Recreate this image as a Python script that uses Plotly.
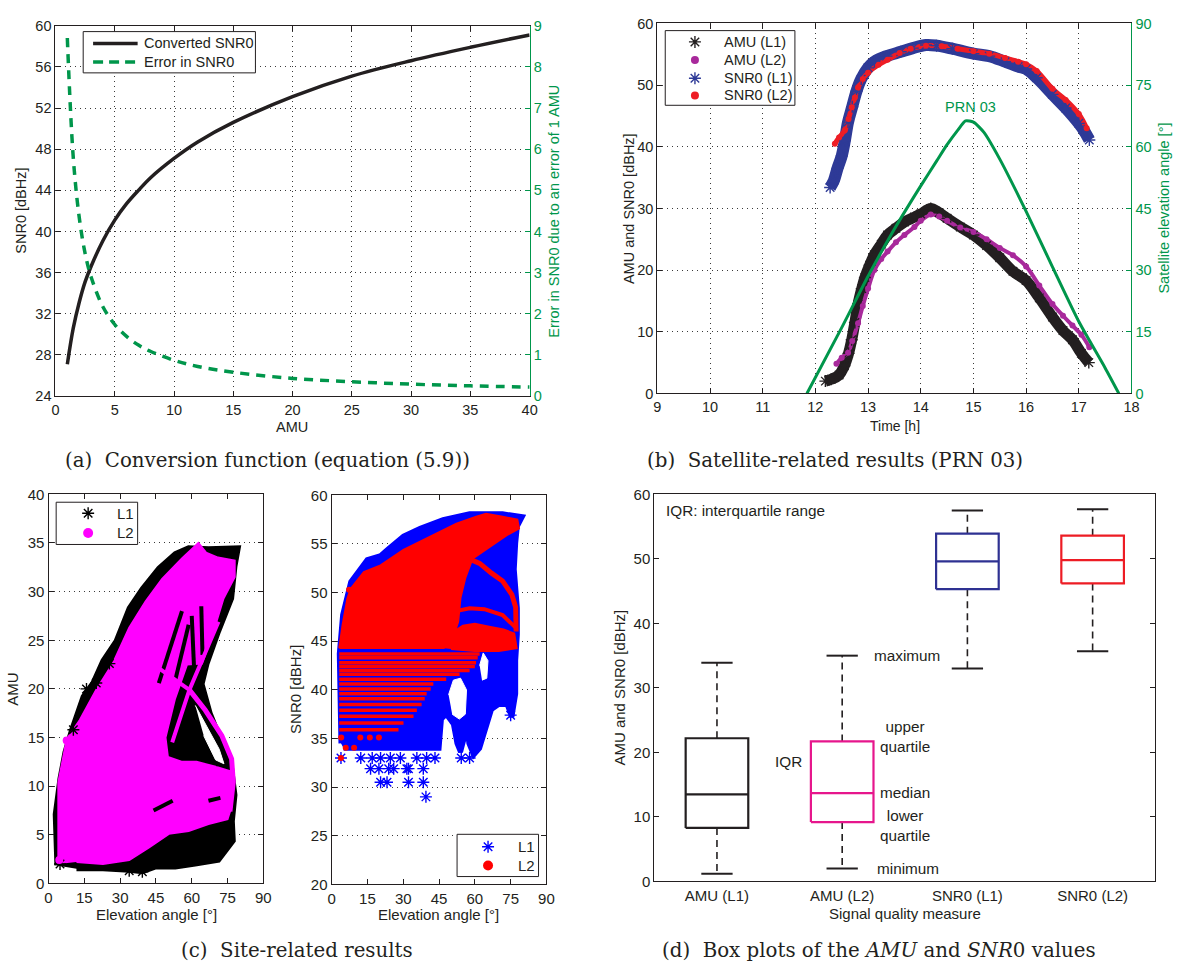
import plotly.graph_objects as go

W, H = 1186, 972
SANS = "Liberation Sans, Arial, sans-serif"
SERIF = "DejaVu Serif, Liberation Serif, serif"
INK = "#231F20"
GREEN = "#00964B"


def fx(p):
    return p / W


def fy(p):
    return 1 - p / H


# ---------------- (a) conversion function ----------------
amu_grid = [1, 1.5, 2, 2.5, 3, 4, 5, 6, 7, 8, 10, 12, 15, 20, 25, 30, 35, 40]
snr_converted = [27.1, 30.6, 33.1, 35.1, 36.6, 39.1, 41.1, 42.7, 44.0, 45.2,
                 47.1, 48.7, 50.6, 53.1, 55.1, 56.6, 57.9, 59.1]
snr_error = [8.7, 5.8, 4.35, 3.47, 2.9, 2.17, 1.74, 1.45, 1.24, 1.09,
             0.87, 0.72, 0.58, 0.43, 0.35, 0.29, 0.25, 0.22]

# ---------------- (b) PRN 03 time series ----------------
t_amu_l1 = [12.19, 12.3, 12.45, 12.55, 12.63, 12.69, 12.75, 12.81, 12.88, 12.94,
            13.03, 13.12, 13.25, 13.37, 13.53, 13.69, 13.88, 14.0, 14.19, 14.35,
            14.5, 14.75, 15.0, 15.25, 15.5, 15.75, 16.0, 16.25, 16.5, 16.7,
            16.88, 17.05, 17.19]
amu_l1 = [2.0, 2.3, 3.0, 4.5, 6.5, 8.7, 11.5, 14.5, 17.0, 18.8,
          20.8, 22.5, 24.2, 25.7, 26.8, 27.8, 28.6, 29.1, 30.0, 29.3,
          28.4, 27.0, 25.7, 24.0, 22.0, 19.8, 18.3, 15.5, 12.4, 10.2,
          8.7, 6.5, 5.0]
t_amu_l2 = [12.4, 12.5, 12.62, 12.7, 12.81, 12.9, 13.0, 13.12, 13.25, 13.37,
            13.53, 13.69, 13.88, 14.0, 14.19, 14.35, 14.5, 14.75, 15.0, 15.25,
            15.5, 15.75, 16.0, 16.25, 16.5, 16.7, 16.88, 17.05, 17.2]
amu_l2 = [4.8, 5.8, 6.6, 8.5, 11.4, 14.2, 17.0, 20.0, 21.8, 23.0,
          24.5, 25.7, 27.0, 28.0, 29.0, 28.7, 28.0, 26.9, 26.2, 25.0,
          23.6, 22.4, 20.6, 17.5, 14.5, 12.6, 11.0, 9.5, 7.5]
t_snr_l1 = [12.28, 12.35, 12.42, 12.5, 12.56, 12.62, 12.7, 12.78, 12.87, 13.0,
            13.12, 13.35, 13.62, 13.85, 14.1, 14.3, 14.6, 15.0, 15.3, 15.6,
            15.85, 16.0, 16.2, 16.5, 16.75, 17.0, 17.1, 17.2]
snr_l1 = [33.4, 34.5, 36.5, 38.5, 41.0, 44.0, 46.5, 49.0, 51.0, 52.8,
          53.8, 54.7, 55.4, 56.0, 56.5, 56.4, 55.9, 55.1, 54.7, 53.8,
          53.0, 52.6, 51.2, 48.5, 46.3, 43.8, 42.6, 41.1]
t_snr_l2 = [12.37, 12.45, 12.56, 12.63, 12.69, 12.75, 12.81, 12.9, 13.0, 13.2,
            13.37, 13.6, 13.81, 14.1, 14.4, 14.7, 15.0, 15.3, 15.6, 15.85,
            16.0, 16.2, 16.5, 16.75, 17.0, 17.15]
snr_l2 = [40.5, 41.5, 42.7, 44.5, 46.4, 48.0, 49.6, 51.0, 52.0, 53.3,
          54.1, 55.2, 55.9, 56.4, 56.3, 55.9, 55.5, 55.1, 54.4, 53.8,
          53.4, 52.3, 49.4, 47.6, 45.3, 43.0]
t_elev = [11.84, 12.5, 13.0, 13.5, 14.0, 14.3, 14.5, 14.7, 14.85, 15.0,
          15.2, 15.5, 16.0, 16.5, 17.0, 17.5, 17.76]
elev_prn03 = [0, 16, 28.5, 40, 50.5, 56.5, 60.5, 64, 66.3, 66,
              63.5, 57, 44.3, 30.8, 17.5, 6.2, 0]

# ---------------- (c) site-related clouds ----------------
# AMU: outline of the L1 and L2 point clouds (elevation, AMU)
amu_l1_cloud_el = [3.5, 2.8, 4.8, 6.9, 9.7, 14.5, 18.6, 22.8, 28.3, 33.8, 39.3, 46.2,
                   53.1, 58.7, 67.0, 79.5, 78.1, 76.7, 71.2, 66.4, 64.3, 67.7, 73.3,
                   76.7, 78.1, 77.0, 77.4, 71.2, 61.4, 53.1, 44.9, 39.3, 33.8, 22.8, 11.7]
amu_l1_cloud_v = [1.85, 7.1, 10.8, 13.5, 15.8, 19.2, 20.6, 22.9, 24.9, 28.3, 30.3, 32.4,
                  33.9, 34.5, 34.4, 34.5, 32.6, 29.3, 25.9, 22.6, 20.5, 17.5, 14.1,
                  11.8, 9.1, 6.4, 4.4, 2.4, 2.0, 1.7, 1.7, 1.2, 1.35, 1.5, 1.5]
amu_l2_cloud_el = [4.1, 4.1, 7.6, 13.1, 20.0, 26.9, 33.8, 40.7, 47.6, 55.9, 62.8, 66.0,
                   71.0, 78.0, 78.0, 73.3, 69.1, 64.3, 58.0, 53.0, 49.0, 50.0, 56.0,
                   62.0, 70.0, 76.5, 76.8, 75.0, 67.0, 58.7, 50.4, 42.1, 33.8, 22.8, 11.7]
amu_l2_cloud_v = [2.0, 10.4, 14.8, 16.8, 19.9, 22.6, 26.3, 29.0, 31.3, 33.4, 35.0, 34.0,
                  33.5, 33.2, 31.5, 29.3, 25.9, 22.6, 22.5, 19.0, 15.0, 13.0, 12.5,
                  12.5, 12.0, 11.5, 8.0, 6.6, 6.1, 5.4, 5.1, 3.7, 2.4, 2.0, 2.2]
amu_l2_gap_el = [61.5, 66.0, 71.5, 73.5, 70.0, 65.0]
amu_l2_gap_v = [18.3, 16.3, 13.8, 12.3, 12.7, 15.2]
amu_l2_arc_el = [59.0, 65.7, 72.6, 76.7, 77.4, 76.0]
amu_l2_arc_v = [19.9, 17.8, 15.2, 12.8, 10.4, 7.4]
amu_l2_stripe_el = [43.5, 59.0, None, 51.8, 59.0, 71.2]
amu_l2_stripe_v = [22.6, 19.9, None, 14.5, 19.9, 26.9]
amu_l1_streak_el = [57.4, 64.0, 71.2, None, 60.0, 61.0, None, 64.0, 64.5, None,
                    46.2, 55.9, None, 53.1, 58.7, None, 44.0, 52.0, None, 67.0, 72.0]
amu_l1_streak_v = [19.2, 15.8, 12.1, None, 27.5, 22.0, None, 28.5, 23.5, None,
                   20.6, 28.0, None, 20.9, 26.6, None, 7.5, 8.5, None, 8.5, 8.8]
amu_l1_pts_el = [25.5, 15.9, 20.0, 10.4, 39.3, 4.8, 33.8]
amu_l1_pts_v = [22.6, 20.0, 20.6, 15.8, 1.2, 2.0, 1.3]
amu_l2_pts_el = [7.6, 4.5]
amu_l2_pts_v = [14.7, 2.4]

# SNR0: outline of the L1 and L2 point clouds (elevation, SNR0)
snr_l1_cloud_el = [3.9, 3.2, 4.6, 8.0, 14.9, 20.5, 23.2, 30.1, 37.1, 46.7, 57.8, 71.6,
                   79.9, 77.8, 77.1, 76.5, 77.8, 77.8, 77.1, 77.1, 75.5, 73.5, 70.0,
                   67.0, 64.5, 62.0, 59.5, 57.5, 56.5, 55.5, 54.0, 52.5, 51.0, 48.0,
                   46.0, 45.0, 43.0, 30.0, 20.0, 12.0, 5.0]
snr_l1_cloud_v = [34.5, 43.7, 47.7, 51.1, 53.4, 53.8, 54.4, 55.8, 56.6, 57.5, 58.1, 58.1,
                  57.8, 56.8, 55.1, 52.4, 48.4, 45.7, 43.0, 39.6, 37.2, 38.5, 38.5,
                  38.0, 36.0, 34.0, 33.3, 34.5, 36.5, 35.0, 33.6, 34.5, 36.5, 37.5,
                  37.0, 34.0, 34.0, 34.0, 34.0, 34.0, 34.0]
snr_gap1_el = [49.0, 51.0, 54.0, 56.5, 56.0, 53.5, 50.5]
snr_gap1_v = [39.5, 41.0, 41.2, 40.0, 37.5, 37.0, 37.5]
snr_gap2_el = [62.0, 63.5, 65.5, 65.0, 63.0]
snr_gap2_v = [42.5, 43.8, 43.0, 41.2, 41.0]
snr_l1_pts_el = [3.9, 12.2, 17.0, 20.5, 24.6, 28.8, 35.7, 39.8, 43.3, 54.3, 57.8,
                 16.3, 19.8, 23.9, 26.0, 31.5, 32.2, 38.4,
                 20.5, 23.2, 32.2, 38.4, 39.5, 75.0]
snr_l1_pts_v = [33.0, 33.0, 33.0, 33.0, 33.0, 33.0, 33.0, 33.0, 33.0, 33.0, 33.0,
                31.9, 31.9, 31.9, 31.9, 31.9, 31.9, 31.9,
                30.5, 30.5, 30.5, 30.5, 29.0, 37.4]
snr_l2_cloud_el = [3.2, 4.6, 6.6, 8.0, 13.5, 20.5, 30.1, 44.0, 52.3, 60.6, 64.7, 71.6,
                   77.8, 78.5, 74.0, 68.0, 63.0, 59.0, 56.0, 54.0, 53.0, 51.0, 47.0, 3.2]
snr_l2_cloud_v = [44.3, 46.7, 49.4, 50.4, 52.1, 52.8, 54.4, 56.1, 57.1, 57.8, 58.1, 57.8,
                  57.5, 56.6, 56.0, 55.0, 54.2, 53.5, 51.5, 49.5, 47.0, 45.5, 44.3, 44.3]
snr_l2_band_el = [46.0, 50.0, 55.0, 60.0, 66.0, 72.0, 76.5, 77.5, 70.0, 60.0, 50.0]
snr_l2_band_v = [44.3, 45.8, 46.6, 46.8, 46.5, 46.2, 45.8, 44.3, 44.0, 44.0, 44.2]
snr_l2_arc_el = [56.4, 62.0, 67.0, 71.6, 75.5, 77.1, 77.3]
snr_l2_arc_v = [53.6, 53.0, 52.0, 51.2, 49.8, 48.5, 46.0]
snr_l2_arc2_el = [58.0, 64.0, 70.0, 76.0]
snr_l2_arc2_v = [54.6, 55.1, 55.9, 56.6]
snr_l2_arc3_el = [42.6, 50.0, 57.8, 64.0, 71.6, 77.1]
snr_l2_arc3_v = [47.4, 48.0, 48.4, 48.3, 47.7, 46.4]
stripe_start = 3.2
stripe_lvl = [43.7, 43.3, 42.8, 42.4, 42.0, 41.6, 41.1, 40.6, 40.1, 39.6, 39.1,
              38.5, 37.9, 37.3, 36.6, 35.9]
stripe_end = [62.0, 61.2, 60.5, 60.0, 57.8, 53.6, 48.0, 42.6, 41.5, 39.8, 39.0,
              37.7, 35.7, 34.3, 30.1, 28.0]
snr_l2_pts_el = [3.9, 5.9, 9.4, 12.0, 16.0, 19.8, 7.3, 4.0]
snr_l2_pts_v = [33.0, 34.05, 34.05, 35.1, 35.1, 35.1, 50.3, 35.1]

# ---------------- (d) box plots ----------------
box_names = ["AMU (L1)", "AMU (L2)", "SNR0 (L1)", "SNR0 (L2)"]
box_min = [1.2, 2.0, 33.0, 35.7]
box_q1 = [8.3, 9.2, 45.3, 46.2]
box_med = [13.5, 13.7, 49.6, 49.8]
box_q3 = [22.2, 21.7, 53.9, 53.6]
box_max = [33.9, 35.0, 57.5, 57.7]
box_colors = [INK, "#E6168C", "#2E3192", "#ED1C24"]

fig = go.Figure()


def axis_style(domain, rng, color=INK, grid=True, mirror="ticks", fsize=14.5, **kw):
    d = dict(domain=domain, range=rng, showline=True, linecolor=color, linewidth=1.2,
             mirror=mirror, ticks="inside", ticklen=5, tickwidth=1, tickcolor=color,
             tickfont=dict(family=SANS, size=fsize, color=color), zeroline=False,
             showgrid=grid, gridcolor="#3a3a3a", griddash="1px,4px", gridwidth=1)
    d.update(kw)
    return d


# ---- (a)
fig.add_trace(go.Scatter(x=amu_grid, y=snr_converted, mode="lines", showlegend=False,
                         line=dict(color=INK, width=3.5, shape="spline"),
                         xaxis="x", yaxis="y"))
fig.add_trace(go.Scatter(x=amu_grid, y=snr_error, mode="lines", showlegend=False,
                         line=dict(color=GREEN, width=3.5, dash="9px,7px", shape="spline"),
                         xaxis="x", yaxis="y2"))

# ---- (b)
BL_BLACK, BL_PURPLE, BL_BLUE, BL_RED = "#231F20", "#A8299B", "#2E3A97", "#EE1D25"
for tx, vy, colr, wd in [(t_amu_l1, amu_l1, BL_BLACK, 11), (t_amu_l2, amu_l2, BL_PURPLE, 4),
                         (t_snr_l1, snr_l1, BL_BLUE, 12), (t_snr_l2, snr_l2, BL_RED, 5)]:
    fig.add_trace(go.Scatter(x=tx, y=vy, mode="lines", showlegend=False,
                             line=dict(color=colr, width=wd, shape="spline"),
                             xaxis="x2", yaxis="y3"))
STAR = dict(symbol="asterisk-open", size=10)
for tx, vy, colr, star in [(t_amu_l1, amu_l1, BL_BLACK, True), (t_amu_l2, amu_l2, BL_PURPLE, False),
                           (t_snr_l1, snr_l1, BL_BLUE, True), (t_snr_l2, snr_l2, BL_RED, False)]:
    mk = dict(STAR, color=colr, line=dict(color=colr, width=1.4)) if star else \
        dict(symbol="circle", size=6, color=colr)
    fig.add_trace(go.Scatter(x=tx, y=vy, mode="markers", showlegend=False, marker=mk,
                             xaxis="x2", yaxis="y3"))
fig.add_trace(go.Scatter(x=t_elev, y=elev_prn03, mode="lines", showlegend=False,
                         line=dict(color=GREEN, width=3, shape="spline", smoothing=0.6),
                         xaxis="x2", yaxis="y4"))


def poly(xs, ys, color, xa, ya, width=2, line_color=None):
    fig.add_trace(go.Scatter(x=xs, y=ys, mode="lines", fill="toself", fillcolor=color,
                             line=dict(color=line_color or color, width=width),
                             showlegend=False, hoverinfo="skip", xaxis=xa, yaxis=ya))


def path(xs, ys, color, xa, ya, width):
    fig.add_trace(go.Scatter(x=xs, y=ys, mode="lines", line=dict(color=color, width=width),
                             showlegend=False, hoverinfo="skip", xaxis=xa, yaxis=ya,
                             connectgaps=False))


# ---- (c) left: AMU
C_BLACK, C_MAG, C_BLUE, C_RED = "#000000", "#FF00FF", "#0000FF", "#FF0000"
poly(amu_l1_cloud_el, amu_l1_cloud_v, C_BLACK, "x3", "y5", width=5)
poly(amu_l2_cloud_el, amu_l2_cloud_v, C_MAG, "x3", "y5", width=2)
path(amu_l1_streak_el, amu_l1_streak_v, C_BLACK, "x3", "y5", 4)
poly(amu_l2_gap_el, amu_l2_gap_v, "#FFFFFF", "x3", "y5", width=1)
path(amu_l2_stripe_el, amu_l2_stripe_v, C_MAG, "x3", "y5", 4)
path(amu_l2_arc_el, amu_l2_arc_v, C_MAG, "x3", "y5", 5)
fig.add_trace(go.Scatter(x=amu_l1_pts_el, y=amu_l1_pts_v, mode="markers", showlegend=False,
                         marker=dict(STAR, color=C_BLACK, line=dict(color=C_BLACK, width=1.4)),
                         xaxis="x3", yaxis="y5"))
fig.add_trace(go.Scatter(x=amu_l2_pts_el, y=amu_l2_pts_v, mode="markers", showlegend=False,
                         marker=dict(symbol="circle", size=8, color=C_MAG),
                         xaxis="x3", yaxis="y5"))

# ---- (c) right: SNR0
poly(snr_l1_cloud_el, snr_l1_cloud_v, C_BLUE, "x4", "y6", width=5)
poly(snr_gap1_el, snr_gap1_v, "#FFFFFF", "x4", "y6", width=1)
poly(snr_gap2_el, snr_gap2_v, "#FFFFFF", "x4", "y6", width=1)
poly(snr_l2_cloud_el, snr_l2_cloud_v, C_RED, "x4", "y6", width=2)
poly(snr_l2_band_el, snr_l2_band_v, C_RED, "x4", "y6", width=2)
path(snr_l2_arc_el, snr_l2_arc_v, C_RED, "x4", "y6", 5)
path(snr_l2_arc2_el, snr_l2_arc2_v, C_RED, "x4", "y6", 3)
path(snr_l2_arc3_el, snr_l2_arc3_v, C_RED, "x4", "y6", 4)
stripe_x, stripe_y = [], []
for lvl, end in zip(stripe_lvl, stripe_end):
    stripe_x += [stripe_start, end, None]
    stripe_y += [lvl, lvl, None]
path(stripe_x, stripe_y, C_RED, "x4", "y6", 3.5)
fig.add_trace(go.Scatter(x=snr_l1_pts_el, y=snr_l1_pts_v, mode="markers", showlegend=False,
                         marker=dict(STAR, color=C_BLUE, line=dict(color=C_BLUE, width=1.4)),
                         xaxis="x4", yaxis="y6"))
fig.add_trace(go.Scatter(x=snr_l2_pts_el, y=snr_l2_pts_v, mode="markers", showlegend=False,
                         marker=dict(symbol="circle", size=6, color=C_RED),
                         xaxis="x4", yaxis="y6"))

# ---- (d) box plots drawn from the quartile arrays
HALF_BOX, HALF_CAP = 0.25, 0.125
for i, name in enumerate(box_names):
    c = i + 1
    col = box_colors[i]
    wx = [c, c, None, c, c]
    wy = [box_q3[i], box_max[i], None, box_q1[i], box_min[i]]
    fig.add_trace(go.Scatter(x=wx, y=wy, mode="lines", showlegend=False, hoverinfo="skip",
                             line=dict(color=INK, width=1.6, dash="7px,5px"),
                             xaxis="x5", yaxis="y7"))
    cx = [c - HALF_CAP, c + HALF_CAP, None, c - HALF_CAP, c + HALF_CAP]
    cy = [box_max[i], box_max[i], None, box_min[i], box_min[i]]
    fig.add_trace(go.Scatter(x=cx, y=cy, mode="lines", showlegend=False, hoverinfo="skip",
                             line=dict(color=INK, width=2), xaxis="x5", yaxis="y7"))
    bx = [c - HALF_BOX, c + HALF_BOX, c + HALF_BOX, c - HALF_BOX, c - HALF_BOX, None,
          c - HALF_BOX, c + HALF_BOX]
    by = [box_q1[i], box_q1[i], box_q3[i], box_q3[i], box_q1[i], None,
          box_med[i], box_med[i]]
    fig.add_trace(go.Scatter(x=bx, y=by, mode="lines", showlegend=False, hoverinfo="skip",
                             line=dict(color=col, width=2.2), xaxis="x5", yaxis="y7"))

# ---------------- legend boxes (drawn on a page-pixel overlay axis) ----------------
annotations = []


def label(text, x, y, size=14.5, color=INK, angle=0, family=SANS, xanchor="center"):
    annotations.append(dict(text=text, x=fx(x), y=fy(y), xref="paper", yref="paper",
                            showarrow=False, textangle=angle, xanchor=xanchor,
                            yanchor="middle", font=dict(family=family, size=size, color=color)))


def legend_box(x0, y0, x1, y1, entries, sample_x, text_x, size):
    poly([x0, x1, x1, x0, x0], [y0, y0, y1, y1, y0], "#FFFFFF", "x6", "y8",
         width=1, line_color=INK)
    for row_y, name, style in entries:
        if style.get("kind") == "line":
            fig.add_trace(go.Scatter(x=[sample_x[0], sample_x[1]], y=[row_y, row_y],
                                     mode="lines", line=style["line"], showlegend=False,
                                     hoverinfo="skip", xaxis="x6", yaxis="y8"))
        else:
            fig.add_trace(go.Scatter(x=[sample_x], y=[row_y], mode="markers",
                                     marker=style["marker"], showlegend=False,
                                     hoverinfo="skip", xaxis="x6", yaxis="y8"))
        label(name, text_x, row_y, size=size, xanchor="left")


legend_box(80, 23, 254, 65,
           [(35, "Converted SNR0", dict(kind="line", line=dict(color=INK, width=3.5))),
            (54, "Error in SNR0", dict(kind="line",
                                       line=dict(color=GREEN, width=3.5, dash="10px,6px")))],
           (90, 135), 139, 14.5)
legend_box(668, 22, 799, 98,
           [(33.5, "AMU (L1)", dict(marker=dict(STAR, color=BL_BLACK,
                                                line=dict(color=BL_BLACK, width=1.4)))),
            (52, "AMU (L2)", dict(marker=dict(symbol="circle", size=8, color=BL_PURPLE))),
            (70.5, "SNR0 (L1)", dict(marker=dict(STAR, color=BL_BLUE,
                                                 line=dict(color=BL_BLUE, width=1.4)))),
            (88, "SNR0 (L2)", dict(marker=dict(symbol="circle", size=8, color=BL_RED)))],
           698, 725, 14.5)
legend_box(52.7, 502, 135, 545,
           [(513.3, "L1", dict(marker=dict(STAR, color=C_BLACK,
                                           line=dict(color=C_BLACK, width=1.4)))),
            (533.3, "L2", dict(marker=dict(symbol="circle", size=10, color=C_MAG)))],
           85, 112, 15)
legend_box(457.7, 840, 540, 883,
           [(852.7, "L1", dict(marker=dict(STAR, color=C_BLUE,
                                           line=dict(color=C_BLUE, width=1.4)))),
            (871.7, "L2", dict(marker=dict(symbol="circle", size=10, color=C_RED)))],
           489, 517, 15)

# ---------------- layout ----------------
dom_a = ([fx(52), fx(531)], [fy(394), fy(17)])
dom_b = ([fx(660), fx(1139)], [fy(391.3), fy(14.7)])
dom_c1 = ([fx(45), fx(262)], [fy(890), fy(494)])
dom_c2 = ([fx(331), fx(548)], [fy(891), fy(495)])
dom_d = ([fx(657), fx(1163)], [fy(888), fy(494)])

layout = dict(
    width=W, height=H, margin=dict(l=0, r=0, t=0, b=0),
    paper_bgcolor="white", plot_bgcolor="rgba(0,0,0,0)", showlegend=False,
    font=dict(family=SANS, size=14, color=INK),
    xaxis=axis_style(dom_a[0], [0, 40], anchor="y", dtick=5, tick0=0),
    yaxis=axis_style(dom_a[1], [24, 60], anchor="x", dtick=4, tick0=24, mirror=False),
    yaxis2=axis_style(dom_a[1], [0, 9], color=GREEN, grid=False, mirror=False,
                      overlaying="y", side="right", anchor="x", dtick=1, tick0=0),
    xaxis2=axis_style(dom_b[0], [9, 18], anchor="y3", dtick=1, tick0=9),
    yaxis3=axis_style(dom_b[1], [0, 60], anchor="x2", dtick=10, tick0=0, mirror=False),
    yaxis4=axis_style(dom_b[1], [0, 90], color=GREEN, grid=False, mirror=False,
                      overlaying="y3", side="right", anchor="x2", dtick=15, tick0=0),
    xaxis3=axis_style(dom_c1[0], [0, 90], anchor="y5", dtick=15, tick0=0, showgrid=False,
                      fsize=15),
    yaxis5=axis_style(dom_c1[1], [0, 40], anchor="x3", dtick=5, tick0=0, fsize=15),
    xaxis4=axis_style(dom_c2[0], [0, 90], anchor="y6", dtick=15, tick0=0, showgrid=False,
                      fsize=15),
    yaxis6=axis_style(dom_c2[1], [20, 60], anchor="x4", dtick=5, tick0=20, fsize=15),
    xaxis5=axis_style(dom_d[0], [0.5, 4.5], anchor="y7", grid=False, mirror=True,
                      ticks="", tickvals=[1, 2, 3, 4], ticktext=box_names, fsize=15),
    yaxis7=axis_style(dom_d[1], [0, 60], anchor="x5", grid=False, dtick=10, tick0=0,
                      fsize=15),
    xaxis6=dict(domain=[0, 1], range=[0, W], visible=False, fixedrange=True, anchor="y8"),
    yaxis8=dict(domain=[0, 1], range=[H, 0], visible=False, fixedrange=True, anchor="x6"),
)
fig.update_layout(**layout)

# axis titles
label("SNR0 [dBHz]", 17, 205.5, angle=-90)
label("AMU", 291, 425)
label("Error in SNR0 due to an error of 1 AMU", 556, 206, color=GREEN, angle=-90)
label("AMU and SNR0 [dBHz]", 632, 203, angle=-90)
label("Time [h]", 900, 424, size=14)
label("Satellite elevation angle [°]", 1172, 203, color=GREEN, angle=-90)
label("AMU", 9, 692, size=15, angle=-90)
label("Elevation angle [°]", 154, 922, size=15)
label("SNR0 [dBHz]", 295, 693, size=15, angle=-90)
label("Elevation angle [°]", 439, 922, size=15)
label("AMU and SNR0 [dBHz]", 622, 691, size=15, angle=-90)
label("Signal quality measure", 910, 921, size=15)

# captions
label("(a)  Conversion function (equation (5.9))", 266, 460, size=19.8, family=SERIF)
label("(b)  Satellite-related results (PRN 03)", 839, 460, size=19.8, family=SERIF)
label("(c)  Site-related results", 296, 958, size=19.8, family=SERIF)
label("(d)  Box plots of the <i>AMU</i> and <i>SNR</i>0 values", 884, 958, size=19.8,
      family=SERIF)

fig.update_layout(annotations=annotations)

# in-plot notes
fig.add_annotation(text="PRN 03", x=14.94, y=69.6, xref="x2", yref="y4", showarrow=False,
                   font=dict(family=SANS, size=14.5, color=GREEN))
fig.add_annotation(text="IQR: interquartile range", x=0.58, y=57.5, xref="x5", yref="y7",
                   showarrow=False, xanchor="left", font=dict(family=SANS, size=15.3, color=INK))
for txt, xv, yv, anc in [("maximum", 2.24, 35.0, "left"),
                         ("upper<br>quartile", 2.5, 22.4, "center"),
                         ("IQR", 1.573, 18.6, "center"),
                         ("median", 2.5, 13.75, "center"),
                         ("lower<br>quartile", 2.5, 8.6, "center"),
                         ("minimum", 2.26, 2.0, "left")]:
    fig.add_annotation(text=txt, x=xv, y=yv, xref="x5", yref="y7", showarrow=False,
                       xanchor=anc, yanchor="middle",
                       font=dict(family=SANS, size=15.3, color=INK))

fig.write_html("out.html")
